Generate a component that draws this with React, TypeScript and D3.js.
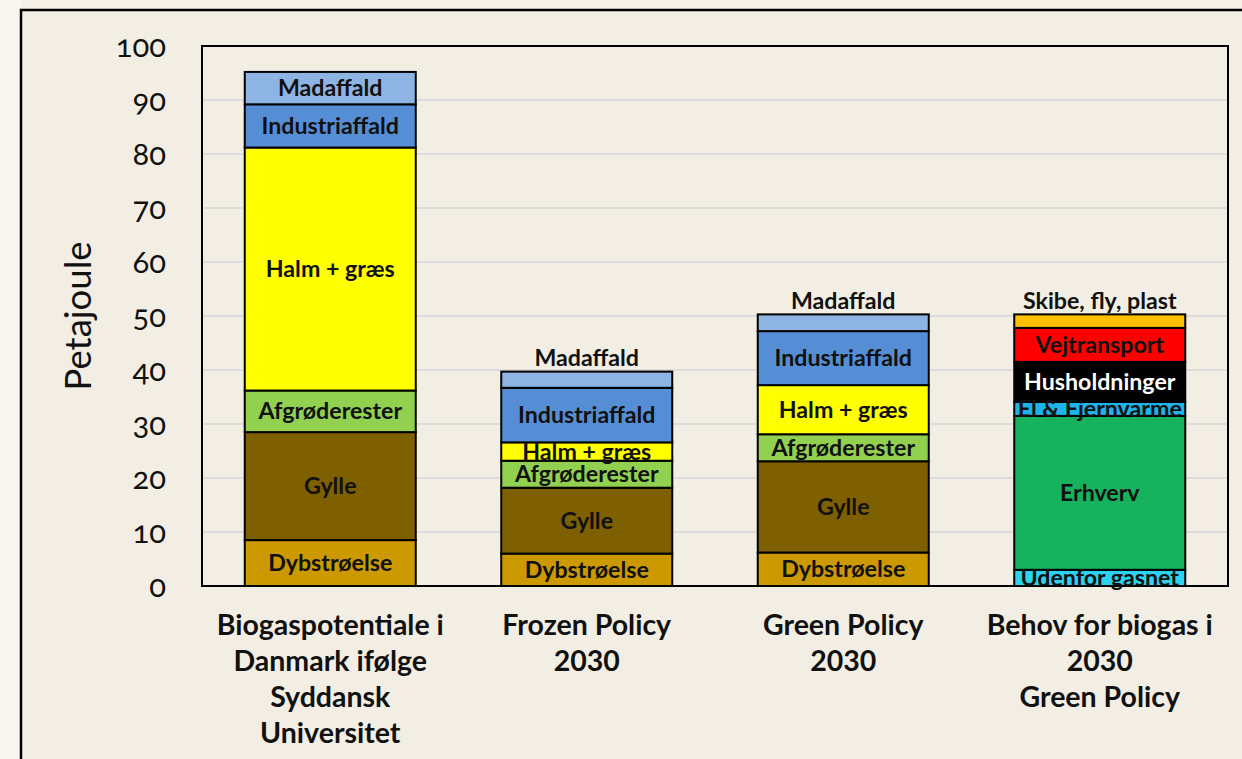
import React from "react";
import * as d3 from "d3";

const categories: string[][] = [
  ["Biogaspotentiale i", "Danmark ifølge", "Syddansk", "Universitet"],
  ["Frozen Policy", "2030"],
  ["Green Policy", "2030"],
  ["Behov for biogas i", "2030", "Green Policy"],
];

const seriesKeys = [
  "Dybstrøelse",
  "Gylle",
  "Afgrøderester",
  "Halm + græs",
  "Industriaffald",
  "Madaffald",
  "Udenfor gasnet",
  "Erhverv",
  "El & Fjernvarme",
  "Husholdninger",
  "Vejtransport",
  "Skibe, fly, plast",
];

const dybstroelse = [8.5, 6.0, 6.2, 0];
const gylle = [20.0, 12.2, 16.9, 0];
const afgroderester = [7.7, 5.0, 5.0, 0];
const halmGraes = [45.0, 3.4, 9.1, 0];
const industriaffald = [8.0, 10.1, 10.0, 0];
const madaffald = [6.0, 3.0, 3.1, 0];
const udenforGasnet = [0, 0, 0, 3.0];
const erhverv = [0, 0, 0, 28.5];
const elFjernvarme = [0, 0, 0, 2.6];
const husholdninger = [0, 0, 0, 7.4];
const vejtransport = [0, 0, 0, 6.3];
const skibeFlyPlast = [0, 0, 0, 2.5];

const seriesValues = [
  dybstroelse,
  gylle,
  afgroderester,
  halmGraes,
  industriaffald,
  madaffald,
  udenforGasnet,
  erhverv,
  elFjernvarme,
  husholdninger,
  vejtransport,
  skibeFlyPlast,
];

const seriesColors = [
  "#CC9900",
  "#7F6000",
  "#92D050",
  "#FFFF00",
  "#558ED5",
  "#8EB4E3",
  "#2CD3F0",
  "#17B25E",
  "#1CB4EA",
  "#000000",
  "#FF0000",
  "#FFC000",
];
const labelColors = seriesKeys.map((k) => (k === "Husholdninger" ? "#FFFFFF" : "#111111"));

const yTicks = [0, 10, 20, 30, 40, 50, 60, 70, 80, 90, 100];

const W = 1242;
const H = 759;
const plot = { left: 202, right: 1228, top: 46, bottom: 586 };
const FONT = "Lato, Carlito, 'Open Sans', sans-serif";

export default function App() {
  const x = d3
    .scaleBand<number>()
    .domain(d3.range(categories.length))
    .range([plot.left, plot.right])
    .paddingInner(1 / 3)
    .paddingOuter(1 / 6);
  const y = d3.scaleLinear().domain([0, 100]).range([plot.bottom, plot.top]);

  const table = d3.range(categories.length).map((i) => {
    const row: Record<string, number> = {};
    seriesKeys.forEach((k, s) => (row[k] = seriesValues[s][i]));
    return row;
  });
  const stacked = d3.stack<Record<string, number>>().keys(seriesKeys)(table);

  const topIdx = d3.range(categories.length).map((i) => {
    let t = -1;
    seriesValues.forEach((v, s) => {
      if (v[i] > 0) t = s;
    });
    return t;
  });

  return (
    <svg
      width={W}
      height={H}
      style={{ position: "absolute", left: 0, top: 0, display: "block" }}
      fontFamily={FONT}
    >
      <rect x={0} y={0} width={W} height={H} fill="#F4F0E7" />
      <rect x={0} y={0} width={21} height={H} fill="#F8F6F0" />
      <rect x={21} y={10} width={W + 20} height={H + 20} fill="#F2EEE4" stroke="#000" strokeWidth={2.5} />

      {yTicks.slice(1, -1).map((t) => (
        <line key={t} x1={plot.left} x2={plot.right} y1={y(t)} y2={y(t)} stroke="#D8D5D8" strokeWidth={1.5} />
      ))}
      <rect
        x={plot.left}
        y={plot.top}
        width={plot.right - plot.left}
        height={plot.bottom - plot.top}
        fill="none"
        stroke="#000"
        strokeWidth={2}
      />

      {yTicks.map((t) => (
        <text
          key={t}
          x={plot.left - 36}
          y={y(t) + 3}
          textAnchor="end"
          dominantBaseline="middle"
          fontSize={31}
          fill="#111"
          style={{ fontVariantNumeric: "oldstyle-nums" }}
        >
          {t}
        </text>
      ))}

      <text
        transform={`translate(${91},${y(50)}) rotate(-90)`}
        textAnchor="middle"
        fontSize={36.5}
        fill="#111"
      >
        Petajoule
      </text>

      {stacked.map((ser, s) =>
        ser.map((d, i) => {
          const v = d[1] - d[0];
          if (v <= 0) return null;
          return (
            <rect
              key={`${s}-${i}`}
              x={x(i)!}
              y={y(d[1])}
              width={x.bandwidth()}
              height={y(d[0]) - y(d[1])}
              fill={seriesColors[s]}
              stroke="#000"
              strokeWidth={2}
            />
          );
        })
      )}

      {stacked.map((ser, s) =>
        ser.map((d, i) => {
          const v = d[1] - d[0];
          if (v <= 0) return null;
          const above = topIdx[i] === s && v < 4;
          const cx = x(i)! + x.bandwidth() / 2;
          const cy = above ? y(d[1]) - 14 : (y(d[0]) + y(d[1])) / 2;
          return (
            <text
              key={`l-${s}-${i}`}
              x={cx}
              y={cy}
              dy="0.35em"
              textAnchor="middle"
              fontSize={23.2}
              fontWeight="bold"
              fill={above ? "#111" : labelColors[s]}
            >
              {seriesKeys[s]}
            </text>
          );
        })
      )}

      {categories.map((lines, i) => (
        <text
          key={`c-${i}`}
          x={x(i)! + x.bandwidth() / 2}
          y={635}
          textAnchor="middle"
          fontSize={28.5}
          fontWeight="bold"
          fill="#111"
        >
          {lines.map((ln, j) => (
            <tspan key={j} x={x(i)! + x.bandwidth() / 2} dy={j === 0 ? 0 : 36}>
              {ln}
            </tspan>
          ))}
        </text>
      ))}
    </svg>
  );
}
